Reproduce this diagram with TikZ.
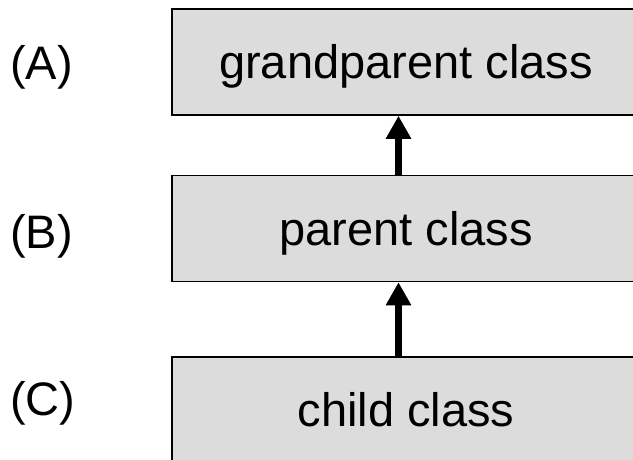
\documentclass[tikz,border=0pt]{standalone}
\usepackage{fontspec}
\setmainfont{Liberation Sans}
\usetikzlibrary{arrows.meta}
\definecolor{boxgray}{RGB}{220,220,220}

\begin{document}
\begin{tikzpicture} [x=1pt,y=1pt,>={Triangle[length=23pt,width=24pt]},
  cls/.style={draw=black,line width=1.6pt,fill=boxgray,minimum width=468pt,
    minimum height=106pt,inner sep=0pt,text height=33pt,text depth=0pt,
    font=\fontsize{47}{55}\selectfont},
  lbl/.style={anchor=base west,inner sep=0pt,font=\fontsize{47}{55}\selectfont}]
\useasboundingbox (0,0) rectangle (633,459);
\clip (0,0) rectangle (633,459);
\node[cls] (gp) at (406,397) {grandparent class};
\node[cls] (par) at (406,230.5) {parent class};
\node[cls] (ch) at (406,49) {child class};
\node[lbl] (la) at (10,379) {(A)};
\node[lbl] (lb) at (10,211) {(B)};
\node[lbl] (lc) at (10,44) {(C)};
\draw[->,line width=7pt] ([xshift=-7.5pt]par.north) -- ([xshift=-7.5pt]gp.south);
\draw[->,line width=7pt] ([xshift=-7.5pt]ch.north) -- ([xshift=-7.5pt]par.south);
\end{tikzpicture}
\end{document}
